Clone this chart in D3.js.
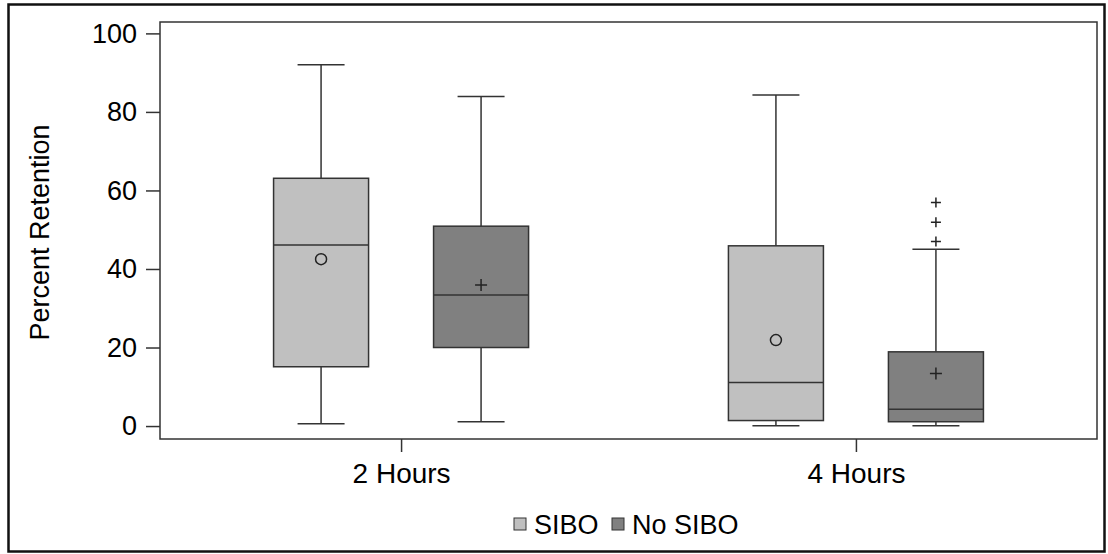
<!DOCTYPE html>
<html>
<head>
<meta charset="utf-8">
<script src="https://cdn.jsdelivr.net/npm/d3@7"></script>
<style>
  html, body { margin: 0; padding: 0; background: #fff; }
  svg { display: block; font-family: "Liberation Sans", Arial, sans-serif; }
</style>
</head>
<body>
<svg id="chart" width="1108" height="554"></svg>
<script>
// ---- data ----
const categories = ["2 Hours", "4 Hours"];
const series = ["SIBO", "No SIBO"];
const seriesColors = ["#c0c0c0", "#808080"];
// per category, per series: [min, q1, median, q3, max]
const sibo_stats    = [[0.6, 15.1, 46.1, 63.1, 92.0], [0.1, 1.4, 11.1, 45.9, 84.3]];
const nosibo_stats  = [[1.1, 20.0, 33.4, 50.9, 83.9], [0.1, 1.1, 4.3, 18.9, 45.0]];
const sibo_means    = [42.5, 21.9];
const nosibo_means  = [35.9, 13.4];
const sibo_outliers   = [[], []];
const nosibo_outliers = [[], [47.0, 51.9, 56.9]];
const yTicks = [0, 20, 40, 60, 80, 100];
const yLabel = "Percent Retention";

const svg = d3.select("#chart");
const plot = { left: 160, right: 1097, top: 22, bottom: 439 };

// outer frame
svg.append("rect").attr("x", 8.5).attr("y", 4.5).attr("width", 1096).attr("height", 547)
  .attr("fill", "#fff").attr("stroke", "#111").attr("stroke-width", 2.5);

const x = d3.scalePoint().domain(categories).range([plot.left, plot.right]).padding(0.53);
const xs = d3.scalePoint().domain(series).range([-80, 80]);
const y = d3.scaleLinear().domain([-3.3, 102.9]).range([plot.bottom, plot.top]);
const boxW = 95, capW = 47;

// plot frame
svg.append("rect").attr("x", plot.left).attr("y", plot.top)
  .attr("width", plot.right - plot.left).attr("height", plot.bottom - plot.top)
  .attr("fill", "none").attr("stroke", "#333").attr("stroke-width", 1.5);

// y axis
const yAxis = svg.append("g").attr("transform", `translate(${plot.left},0)`)
  .call(d3.axisLeft(y).tickValues(yTicks).tickSize(14).tickPadding(9));
yAxis.select(".domain").remove();
yAxis.selectAll(".tick line").attr("stroke", "#333").attr("stroke-width", 1.5);
yAxis.selectAll(".tick text").attr("font-size", 27).attr("fill", "#000")
  .attr("font-family", "Liberation Sans, Arial, sans-serif");

// x axis
const xAxis = svg.append("g").attr("transform", `translate(0,${plot.bottom})`)
  .call(d3.axisBottom(x).tickSize(13).tickPadding(11));
xAxis.select(".domain").remove();
xAxis.selectAll(".tick line").attr("stroke", "#333").attr("stroke-width", 1.5);
xAxis.selectAll(".tick text").attr("font-size", 28).attr("fill", "#000")
  .attr("font-family", "Liberation Sans, Arial, sans-serif");

// y label
svg.append("text").attr("transform", `translate(49,${(plot.top + plot.bottom) / 2 + 2}) rotate(-90)`)
  .attr("text-anchor", "middle").attr("font-size", 27).attr("fill", "#000").text(yLabel);

// boxes
const allStats = [sibo_stats, nosibo_stats];
const allMeans = [sibo_means, nosibo_means];
const allOut = [sibo_outliers, nosibo_outliers];
const stroke = "#333";

series.forEach((s, si) => {
  categories.forEach((c, ci) => {
    const [mn, q1, md, q3, mx] = allStats[si][ci];
    const cx = x(c) + xs(s);
    const g = svg.append("g");
    g.append("line").attr("x1", cx).attr("x2", cx).attr("y1", y(q3)).attr("y2", y(mx))
      .attr("stroke", stroke).attr("stroke-width", 1.5);
    g.append("line").attr("x1", cx).attr("x2", cx).attr("y1", y(q1)).attr("y2", y(mn))
      .attr("stroke", stroke).attr("stroke-width", 1.5);
    g.append("line").attr("x1", cx - capW / 2).attr("x2", cx + capW / 2).attr("y1", y(mx)).attr("y2", y(mx))
      .attr("stroke", stroke).attr("stroke-width", 1.5);
    g.append("line").attr("x1", cx - capW / 2).attr("x2", cx + capW / 2).attr("y1", y(mn)).attr("y2", y(mn))
      .attr("stroke", stroke).attr("stroke-width", 1.5);
    g.append("rect").attr("x", cx - boxW / 2).attr("y", y(q3)).attr("width", boxW)
      .attr("height", y(q1) - y(q3)).attr("fill", seriesColors[si])
      .attr("stroke", stroke).attr("stroke-width", 1.5);
    g.append("line").attr("x1", cx - boxW / 2).attr("x2", cx + boxW / 2).attr("y1", y(md)).attr("y2", y(md))
      .attr("stroke", stroke).attr("stroke-width", 1.5);
    const m = allMeans[si][ci];
    if (si === 0) {
      g.append("circle").attr("cx", cx).attr("cy", y(m)).attr("r", 5.5)
        .attr("fill", "none").attr("stroke", "#222").attr("stroke-width", 1.5);
    } else {
      g.append("path").attr("d", `M${cx - 6},${y(m)}H${cx + 6}M${cx},${y(m) - 6}V${y(m) + 6}`)
        .attr("stroke", "#222").attr("stroke-width", 1.5);
    }
    allOut[si][ci].forEach(v => {
      g.append("path").attr("d", `M${cx - 5},${y(v)}H${cx + 5}M${cx},${y(v) - 5}V${y(v) + 5}`)
        .attr("stroke", "#222").attr("stroke-width", 1.5);
    });
  });
});

// legend
const leg = svg.append("g");
const legX = [514, 612];
series.forEach((s, si) => {
  leg.append("rect").attr("x", legX[si]).attr("y", 518).attr("width", 12).attr("height", 12)
    .attr("fill", seriesColors[si]).attr("stroke", stroke).attr("stroke-width", 1);
  leg.append("text").attr("x", legX[si] + 20).attr("y", 533.5).attr("font-size", 27)
    .attr("fill", "#000").text(s);
});
</script>
</body>
</html>
